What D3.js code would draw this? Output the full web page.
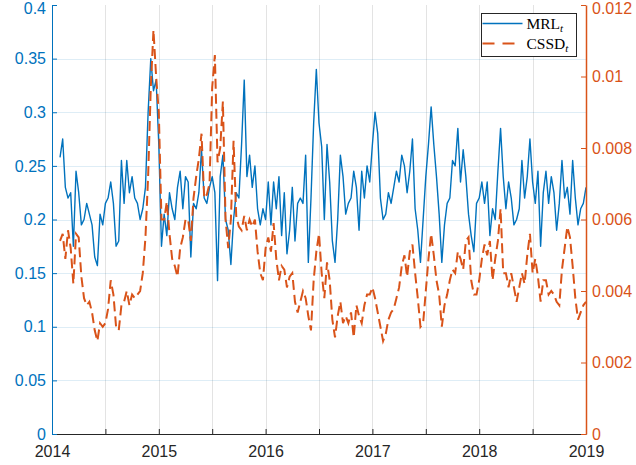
<!DOCTYPE html>
<html>
<head>
<meta charset="utf-8">
<script src="https://cdn.jsdelivr.net/npm/d3@7"></script>
<style>
  body { margin: 0; background: #fff; }
  text { font-family: "Liberation Sans", Arial, sans-serif; }
</style>
</head>
<body>
<div id="chart"></div>
<script>
// decimal-year dates: every 1/40 year from 2014.075 to 2019.0
var startYear = 2014.075, stepYear = 0.025;

var yearTicks = [2014, 2014.5, 2015, 2015.5, 2016, 2016.5, 2017, 2017.5, 2018, 2018.5, 2019];
var leftTicks = [0, 0.05, 0.1, 0.15, 0.2, 0.25, 0.3, 0.35, 0.4];
var rightTicks = [0, 0.002, 0.004, 0.006, 0.008, 0.01, 0.012];

var mrl = [
    // 2014
    0.258, 0.275, 0.230, 0.220, 0.225, 0.175, 0.245, 0.225, 0.195, 0.200,
    0.215, 0.205, 0.195, 0.165, 0.157, 0.205, 0.195, 0.215, 0.220, 0.235,
    0.215, 0.175, 0.180, 0.255, 0.215, 0.255, 0.225, 0.240, 0.220, 0.215,
    0.200, 0.210, 0.230, 0.300, 0.350, 0.320, 0.330,
    // 2015
    0.270, 0.175, 0.205, 0.185, 0.225, 0.210, 0.200, 0.230, 0.245, 0.210,
    0.240, 0.235, 0.165, 0.215, 0.210, 0.225, 0.265, 0.220, 0.215, 0.230,
    0.240, 0.225, 0.143, 0.240, 0.260, 0.200, 0.190, 0.158, 0.200, 0.225,
    0.220, 0.270, 0.330, 0.240, 0.260, 0.230, 0.250, 0.210, 0.195, 0.210,
    // 2016
    0.200, 0.235, 0.195, 0.235, 0.210, 0.240, 0.185, 0.225, 0.168, 0.190,
    0.230, 0.180, 0.215, 0.220, 0.215, 0.260, 0.160, 0.220, 0.290, 0.340,
    0.290, 0.268, 0.200, 0.270, 0.235, 0.180, 0.160, 0.200, 0.260, 0.240,
    0.205, 0.215, 0.220, 0.245, 0.230, 0.190, 0.245, 0.220, 0.250, 0.235,
    // 2017
    0.270, 0.300, 0.280, 0.220, 0.200, 0.205, 0.225, 0.215, 0.230, 0.245,
    0.235, 0.260, 0.250, 0.225, 0.245, 0.275, 0.210, 0.190, 0.160, 0.200,
    0.240, 0.270, 0.305, 0.270, 0.240, 0.205, 0.160, 0.195, 0.215, 0.220,
    0.255, 0.250, 0.285, 0.235, 0.265, 0.240, 0.205, 0.185, 0.170, 0.215,
    // 2018
    0.220, 0.235, 0.215, 0.235, 0.185, 0.210, 0.200, 0.245, 0.285, 0.240,
    0.210, 0.235, 0.220, 0.195, 0.200, 0.210, 0.255, 0.220, 0.240, 0.275,
    0.235, 0.215, 0.245, 0.175, 0.225, 0.245, 0.215, 0.240, 0.225, 0.190,
    0.215, 0.255, 0.220, 0.230, 0.205, 0.255, 0.220, 0.195, 0.210, 0.215,
    0.230
];

var cssd = [
    // 2014
    0.0054, 0.0056, 0.0049, 0.0057, 0.0052, 0.0042, 0.0056, 0.0055, 0.0044, 0.0038,
    0.0036, 0.0037, 0.0034, 0.0029, 0.0026, 0.0031, 0.0030, 0.0031, 0.0035, 0.0043,
    0.0039, 0.0030, 0.0029, 0.0036, 0.0037, 0.0040, 0.0036, 0.0039, 0.0038, 0.0039,
    0.0040, 0.0045, 0.0055, 0.0072, 0.0097, 0.0113, 0.0100,
    // 2015
    0.0090, 0.0060, 0.0060, 0.0065, 0.0056, 0.0049, 0.0047, 0.0044, 0.0052, 0.0055,
    0.0060, 0.0060, 0.0054, 0.0066, 0.0072, 0.0077, 0.0084, 0.0066, 0.0067, 0.0070,
    0.0097, 0.0106, 0.0076, 0.0080, 0.0093, 0.0060, 0.0052, 0.0060, 0.0082, 0.0061,
    0.0058, 0.0057, 0.0061, 0.0057, 0.0060, 0.0058, 0.0060, 0.0051, 0.0045, 0.0043,
    // 2016
    0.0052, 0.0055, 0.0051, 0.0059, 0.0049, 0.0043, 0.0047, 0.0046, 0.0041, 0.0044,
    0.0045, 0.0037, 0.0034, 0.0037, 0.0040, 0.0038, 0.0033, 0.0029, 0.0043, 0.0051,
    0.0056, 0.0045, 0.0038, 0.0048, 0.0043, 0.0032, 0.0027, 0.0033, 0.0037, 0.0031,
    0.0033, 0.0031, 0.0034, 0.0027, 0.0036, 0.0033, 0.0031, 0.0036, 0.0039, 0.0039,
    // 2017
    0.0041, 0.0038, 0.0034, 0.0030, 0.0026, 0.0028, 0.0032, 0.0034, 0.0035, 0.0038,
    0.0041, 0.0047, 0.0050, 0.0044, 0.0051, 0.0053, 0.0045, 0.0038, 0.0030, 0.0031,
    0.0040, 0.0049, 0.0056, 0.0050, 0.0043, 0.0039, 0.0030, 0.0036, 0.0039, 0.0043,
    0.0046, 0.0045, 0.0051, 0.0049, 0.0046, 0.0054, 0.0055, 0.0043, 0.0039, 0.0039,
    // 2018
    0.0043, 0.0049, 0.0053, 0.0050, 0.0054, 0.0043, 0.0049, 0.0054, 0.0063, 0.0045,
    0.0045, 0.0041, 0.0045, 0.0041, 0.0037, 0.0041, 0.0045, 0.0042, 0.0050, 0.0056,
    0.0045, 0.0049, 0.0044, 0.0037, 0.0043, 0.0043, 0.0039, 0.0040, 0.0039, 0.0037,
    0.0036, 0.0046, 0.0052, 0.0058, 0.0055, 0.0047, 0.0038, 0.0032, 0.0034, 0.0036,
    0.0037
];

var dates = mrl.map(function (d, i) { return startYear + i * stepYear; });

var width = 636, height = 465,
    margin = { top: 5, right: 50, bottom: 31, left: 52 },
    blue = "#0072BD", orange = "#D95319", dark = "#262626";

var svg = d3.select("#chart").append("svg")
    .attr("width", width)
    .attr("height", height);

var x = d3.scaleLinear().domain([2014, 2019]).range([margin.left, width - margin.right]);
var yL = d3.scaleLinear().domain([0, 0.4]).range([height - margin.bottom, margin.top]);
var yR = d3.scaleLinear().domain([0, 0.012]).range([height - margin.bottom, margin.top]);

var x0 = x.range()[0], x1 = x.range()[1], yb = yL.range()[0], yt = yL.range()[1];

// grid
svg.append("g").selectAll("line")
    .data(yearTicks.slice(1, -1))
    .enter().append("line")
    .attr("x1", function (d) { return Math.round(x(d)) + 0.5; })
    .attr("x2", function (d) { return Math.round(x(d)) + 0.5; })
    .attr("y1", yt).attr("y2", yb)
    .attr("stroke", dark).attr("stroke-opacity", 0.13);

svg.append("g").selectAll("line")
    .data(leftTicks.slice(1, -1))
    .enter().append("line")
    .attr("x1", x0).attr("x2", x1)
    .attr("y1", function (d) { return Math.round(yL(d)) + 0.5; })
    .attr("y2", function (d) { return Math.round(yL(d)) + 0.5; })
    .attr("stroke", blue).attr("stroke-opacity", 0.13);

// series
var lineL = d3.line()
    .x(function (d, i) { return x(dates[i]); })
    .y(function (d) { return yL(d); });
var lineR = d3.line()
    .x(function (d, i) { return x(dates[i]); })
    .y(function (d) { return yR(d); });

svg.append("path")
    .datum(mrl)
    .attr("d", lineL)
    .attr("fill", "none")
    .attr("stroke", blue)
    .attr("stroke-width", 1.4)
    .attr("stroke-linejoin", "round");

svg.append("path")
    .datum(cssd)
    .attr("d", lineR)
    .attr("fill", "none")
    .attr("stroke", orange)
    .attr("stroke-width", 2)
    .attr("stroke-dasharray", "10,5");

// axes
var xAxis = d3.axisBottom(x)
    .tickValues(yearTicks)
    .tickSizeInner(-5).tickSizeOuter(0).tickPadding(12)
    .tickFormat(function (d) { return d % 1 === 0 ? d : ""; });
var gx = svg.append("g")
    .attr("transform", "translate(0," + yb + ")")
    .call(xAxis);
gx.select(".domain").attr("stroke", dark);
gx.selectAll(".tick line").attr("stroke", dark);
gx.selectAll("text").attr("fill", dark).style("font-size", "16px");

var gl = svg.append("g")
    .attr("transform", "translate(" + x0 + ",0)")
    .call(d3.axisLeft(yL).tickValues(leftTicks).tickSizeInner(-5).tickSizeOuter(0).tickPadding(6)
        .tickFormat(function (d) { return String(+d.toFixed(2)); }));
gl.select(".domain").attr("stroke", blue);
gl.selectAll(".tick line").attr("stroke", blue);
gl.selectAll("text").attr("fill", blue).style("font-size", "16px");

var gr = svg.append("g")
    .attr("transform", "translate(" + x1 + ",0)")
    .call(d3.axisRight(yR).tickValues(rightTicks).tickSizeInner(-5).tickSizeOuter(0).tickPadding(6)
        .tickFormat(function (d) { return String(+d.toFixed(3)); }));
gr.select(".domain").attr("stroke", orange).attr("stroke-width", 1.5);
gr.selectAll(".tick line").attr("stroke", orange);
gr.selectAll("text").attr("fill", orange).style("font-size", "16px");

// top labels sit slightly lower so they are not clipped
gl.selectAll(".tick").filter(function (d) { return d === 0.4; }).select("text").attr("dy", "0.5em");
gr.selectAll(".tick").filter(function (d) { return d === 0.012; }).select("text").attr("dy", "0.5em");

// legend
var legend = svg.append("g").attr("transform", "translate(481.5,13.5)");
legend.append("rect")
    .attr("width", 95).attr("height", 43)
    .attr("fill", "#fff").attr("stroke", dark).attr("stroke-width", 1);

var items = [
    { name: "MRL", color: blue, dash: null, w: 1.4 },
    { name: "CSSD", color: orange, dash: "12,8", w: 2 }
];
items.forEach(function (d, i) {
    var cy = 10 + i * 20;
    legend.append("line")
        .attr("x1", 1).attr("x2", 41)
        .attr("y1", cy).attr("y2", cy)
        .attr("stroke", d.color).attr("stroke-width", d.w)
        .attr("stroke-dasharray", d.dash);
    var t = legend.append("text")
        .attr("x", 45).attr("y", cy + 5)
        .style("font-family", "'Liberation Serif', 'Times New Roman', serif")
        .style("font-size", "15.5px")
        .attr("fill", "#000")
        .text(d.name);
    t.append("tspan")
        .attr("dy", 3)
        .style("font-style", "italic")
        .style("font-size", "11px")
        .text("t");
});
</script>
</body>
</html>
